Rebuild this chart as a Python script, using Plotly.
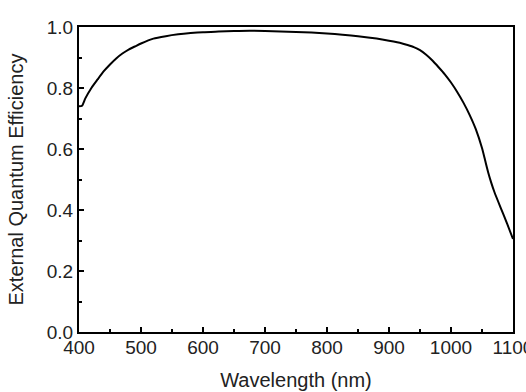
import plotly.graph_objects as go

wavelength = [400, 405, 410, 420, 430, 440, 450, 460, 470, 480, 490, 500, 520, 540, 560, 580,
              600, 625, 650, 675, 700, 725, 750, 775, 800, 825, 850, 880, 900, 920, 930, 940,
              950, 960, 970, 980, 990, 1000, 1010, 1020, 1030, 1040, 1050, 1055, 1060, 1065,
              1070, 1080, 1090, 1100]
eqe = [0.740, 0.742, 0.765, 0.800, 0.828, 0.855, 0.877, 0.897, 0.913, 0.926, 0.936, 0.946,
       0.962, 0.970, 0.976, 0.980, 0.983, 0.985, 0.987, 0.988, 0.987, 0.985, 0.984, 0.982,
       0.979, 0.975, 0.970, 0.962, 0.955, 0.947, 0.941, 0.934, 0.924, 0.909, 0.890, 0.868,
       0.845, 0.818, 0.787, 0.752, 0.712, 0.665, 0.603, 0.563, 0.523, 0.489, 0.459, 0.408,
       0.358, 0.305]

x_ticks = [400, 500, 600, 700, 800, 900, 1000, 1100]
y_ticks = [0.0, 0.2, 0.4, 0.6, 0.8, 1.0]

font = dict(family="Liberation Sans, Arial, sans-serif", size=19, color="#222")
title_font = dict(family="Liberation Sans, Arial, sans-serif", size=20, color="#222")

fig = go.Figure(go.Scatter(x=wavelength, y=eqe, mode="lines",
                           line=dict(color="black", width=2, shape="spline", smoothing=0.6)))

fig.update_layout(
    width=526, height=392,
    margin=dict(l=79, r=13, t=27, b=60),
    paper_bgcolor="white", plot_bgcolor="white",
    showlegend=False, font=font,
)
fig.update_xaxes(
    range=[400, 1100], tickvals=x_ticks, ticktext=[str(v) for v in x_ticks],
    ticks="inside", ticklen=5, tickwidth=2, tickcolor="black", ticklabeloverflow="allow",
    ticklabelstandoff=-3,
    minor=dict(dtick=50, ticks="inside", ticklen=3, tickwidth=2, tickcolor="black", showgrid=False),
    showline=True, linecolor="black", linewidth=2, mirror=True, showgrid=False, zeroline=False,
    title=dict(text="Wavelength (nm)", font=title_font, standoff=16), tickfont=font,
    automargin=False,
)
fig.update_yaxes(
    range=[0, 1.0], tickvals=y_ticks, ticktext=[f"{v:.1f}" for v in y_ticks],
    ticks="inside", ticklen=5, tickwidth=2, tickcolor="black", ticklabeloverflow="allow",
    minor=dict(dtick=0.1, ticks="inside", ticklen=3, tickwidth=2, tickcolor="black", showgrid=False),
    showline=True, linecolor="black", linewidth=2, mirror=True, showgrid=False, zeroline=False,
    title=dict(text="External Quantum Efficiency", font=title_font, standoff=18), tickfont=font,
    automargin=False,
)

fig.write_html("out.html")
